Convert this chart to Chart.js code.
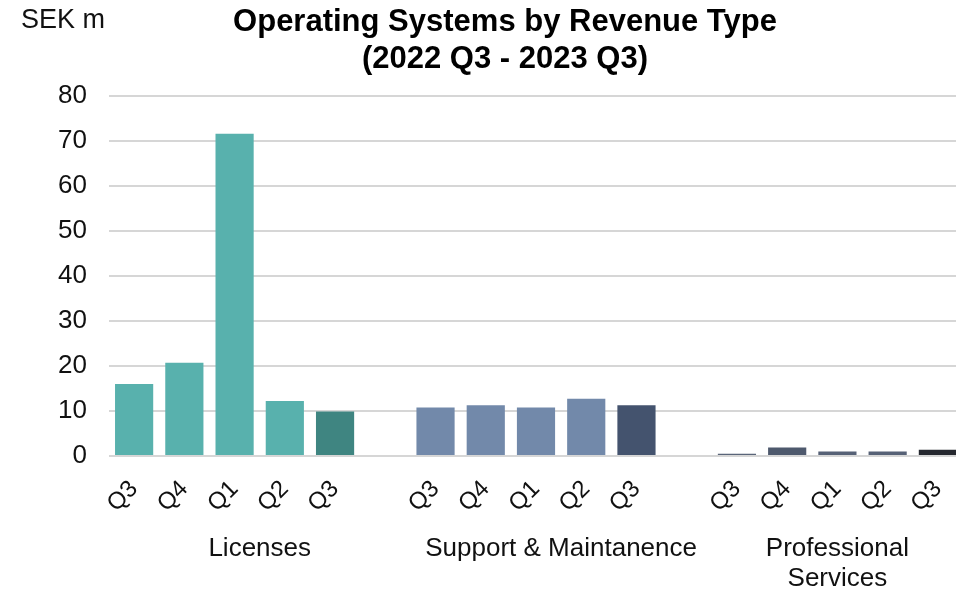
<!DOCTYPE html>
<html>
<head>
<meta charset="utf-8">
<script src="https://cdn.jsdelivr.net/npm/chart.js@4.4.0/dist/chart.umd.min.js"></script>
<style>
  html, body { margin: 0; padding: 0; background: #ffffff; overflow: hidden; }
  #wrap { position: relative; width: 956px; height: 596px; overflow: hidden; }
  canvas { display: block; }
</style>
</head>
<body>
<div id="wrap"><canvas id="c" width="970" height="596" style="width:970px;height:596px"></canvas></div>
<script>
// ---- data ----
const quarters = ['Q3', 'Q4', 'Q1', 'Q2', 'Q3'];
const groupNames = ['Licenses', 'Support & Maintanence', 'Professional Services'];
const licenses = [16.0, 20.7, 71.6, 12.2, 9.9];
const support = [10.8, 11.3, 10.8, 12.7, 11.3];
const professional = [0.5, 1.9, 1.0, 1.0, 1.4];
const unitLabel = 'SEK m';
const titleLines = ['Operating Systems by Revenue Type', '(2022 Q3 - 2023 Q3)'];

// ---- styles ----
const licensesColors = ['#58b1ad', '#58b1ad', '#58b1ad', '#58b1ad', '#3f8581'];
const supportColors = ['#7289aa', '#7289aa', '#7289aa', '#7289aa', '#44536e'];
const professionalColors = ['#5a6579', '#4e596d', '#566176', '#566176', '#25282f'];

// ---- build category table (one blank spacer slot after the first two groups) ----
const seriesByGroup = [licenses, support, professional];
const colorsByGroup = [licensesColors, supportColors, professionalColors];
const labels = [], values = [], colors = [], groupCenters = [];
seriesByGroup.forEach((vals, g) => {
  const start = labels.length;
  vals.forEach((v, i) => { labels.push(quarters[i]); values.push(v); colors.push(colorsByGroup[g][i]); });
  if (g < seriesByGroup.length - 1) { labels.push(''); values.push(null); colors.push('rgba(0,0,0,0)'); }
  const end = labels.length - 1;
  groupCenters.push((start + end) / 2);
});

const FONT = '"Liberation Sans", Arial, sans-serif';

const unitPlugin = {
  id: 'unitLabel',
  afterDraw(chart) {
    const ctx = chart.ctx;
    ctx.save();
    ctx.font = '27px ' + FONT;
    ctx.fillStyle = '#111111';
    ctx.textAlign = 'left';
    ctx.textBaseline = 'alphabetic';
    ctx.fillText(unitLabel, 21, 28);
    ctx.restore();
  }
};

function noSidePadding(scale) { scale.paddingLeft = 0; scale.paddingRight = 0; }

new Chart(document.getElementById('c'), {
  type: 'bar',
  data: {
    labels: labels,
    datasets: [{
      data: values,
      backgroundColor: colors,
      borderWidth: 0,
      categoryPercentage: 1.0,
      barPercentage: 0.76
    }]
  },
  plugins: [unitPlugin],
  options: {
    responsive: false,
    animation: false,
    layout: { padding: { left: 47, right: 7, top: 0, bottom: 0 } },
    plugins: {
      legend: { display: false },
      tooltip: { enabled: false },
      title: {
        display: true,
        text: titleLines,
        color: '#000000',
        font: { family: FONT, size: 31, weight: 'bold', lineHeight: 1.2 },
        padding: { top: 4, bottom: 17.6 }
      }
    },
    scales: {
      y: {
        min: 0, max: 80,
        ticks: { stepSize: 10, color: '#111111', font: { family: FONT, size: 26 }, padding: 22 },
        grid: { color: '#d6d6d6', lineWidth: 2, drawTicks: false },
        border: { display: false },
        afterFit(scale) { scale.width = 62; }
      },
      x: {
        weight: 0,
        grid: { display: false, drawTicks: false },
        border: { display: false },
        ticks: {
          autoSkip: false, minRotation: 45, maxRotation: 45,
          color: '#111111', font: { family: FONT, size: 24 }, padding: 19
        },
        afterFit(scale) { noSidePadding(scale); scale.height = 64; }
      },
      x2: {
        type: 'linear',
        position: 'bottom',
        axis: 'x',
        weight: 1,
        offset: false,
        bounds: 'data',
        grace: 0,
        beginAtZero: false,
        min: -0.5, max: labels.length - 0.5,
        grid: { display: false, drawTicks: false, offset: false },
        border: { display: false },
        afterBuildTicks(scale) { scale.ticks = groupCenters.map(v => ({ value: v })); },
        afterFit(scale) { noSidePadding(scale); scale.height = 76; },
        ticks: {
          autoSkip: false, maxRotation: 0, minRotation: 0,
          color: '#111111', font: { family: FONT, size: 26, lineHeight: 1.15 }, padding: 14,
          callback(value) {
            const idx = groupCenters.indexOf(value);
            const name = idx >= 0 ? groupNames[idx] : '';
            return name === 'Professional Services' ? ['Professional', 'Services'] : name;
          }
        }
      }
    }
  }
});
</script>
</body>
</html>
